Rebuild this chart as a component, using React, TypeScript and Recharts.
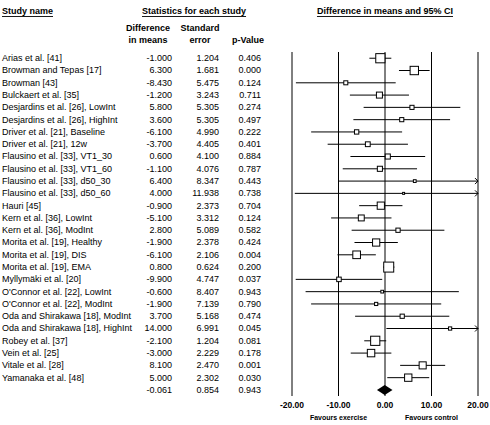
import { BarChart, Bar, XAxis, YAxis, CartesianGrid } from "recharts";

const FONT = '"Liberation Sans", Arial, sans-serif';

// study rows, top to bottom
const studyNames = [
  "Arias et al. [41]",
  "Browman and Tepas [17]",
  "Browman [43]",
  "Bulckaert et al. [35]",
  "Desjardins et al. [26], LowInt",
  "Desjardins et al. [26], HighInt",
  "Driver et al. [21], Baseline",
  "Driver et al. [21], 12w",
  "Flausino et al. [33], VT1_30",
  "Flausino et al. [33], VT1_60",
  "Flausino et al. [33], d50_30",
  "Flausino et al. [33], d50_60",
  "Hauri [45]",
  "Kern et al. [36], LowInt",
  "Kern et al. [36], ModInt",
  "Morita et al. [19], Healthy",
  "Morita et al. [19], DIS",
  "Morita et al. [19], EMA",
  "Myllymäki et al. [20]",
  "O'Connor et al. [22], LowInt",
  "O'Connor et al. [22], ModInt",
  "Oda and Shirakawa [18], ModInt",
  "Oda and Shirakawa [18], HighInt",
  "Robey et al. [37]",
  "Vein et al. [25]",
  "Vitale et al. [28]",
  "Yamanaka et al. [48]",
];
const meanDiffs = [
  -1.0, 6.3, -8.43, -1.2, 5.8, 3.6, -6.1, -3.7, 0.6, -1.1, 6.4, 4.0, -0.9, -5.1,
  2.8, -1.9, -6.1, 0.8, -9.9, -0.6, -1.9, 3.7, 14.0, -2.1, -3.0, 8.1, 5.0,
];
const stdErrors = [
  1.204, 1.681, 5.475, 3.243, 5.305, 5.305, 4.99, 4.405, 4.1, 4.076, 8.347,
  11.938, 2.373, 3.312, 5.089, 2.378, 2.106, 0.624, 4.747, 8.407, 7.139, 5.168,
  6.991, 1.204, 2.229, 2.47, 2.302,
];
const pValues = [
  "0.406", "0.000", "0.124", "0.711", "0.274", "0.497", "0.222", "0.401",
  "0.884", "0.787", "0.443", "0.738", "0.704", "0.124", "0.582", "0.424",
  "0.004", "0.200", "0.037", "0.943", "0.790", "0.474", "0.045", "0.081",
  "0.178", "0.001", "0.030",
];
const summaryMean = -0.061;
const summarySe = 0.854;
const summaryP = "0.943";

const axisTicks = [-20, -10, 0, 10, 20];
const axisMin = -20;
const axisMax = 20;

// box side grows with (random-effects style) weight
const TAU2 = 5.3;
const maxWeight = Math.max(...stdErrors.map((s) => 1 / (s * s + TAU2)));
const boxSize = (se: number) => 10 * Math.sqrt(1 / (se * se + TAU2) / maxWeight);

type Row = {
  key: string;
  name: string;
  mean: number;
  se: number;
  p: string;
  ci: [number, number];
  overRight: boolean;
  summary: boolean;
};

const makeRow = (i: number, name: string, mean: number, se: number, p: string, summary: boolean): Row => {
  const lo = mean - 1.96 * se;
  const hi = mean + 1.96 * se;
  return {
    key: "r" + i,
    name,
    mean,
    se,
    p,
    ci: [Math.max(lo, axisMin), Math.min(hi, axisMax)],
    overRight: hi > axisMax,
    summary,
  };
};

const rows: Row[] = [
  ...studyNames.map((n, i) => makeRow(i, n, meanDiffs[i], stdErrors[i], pValues[i], false)),
  makeRow(studyNames.length, "", summaryMean, summarySe, summaryP, true),
];

const ForestMark = (props: any) => {
  const { x, y, width, height, payload } = props;
  const row = payload as Row;
  const cy = y + height / 2;
  const perUnit = width / (row.ci[1] - row.ci[0]);
  const cx = x + (row.mean - row.ci[0]) * perUnit;
  if (row.summary) {
    const h = 5;
    return (
      <polygon
        points={`${x},${cy} ${cx},${cy - h} ${x + width},${cy} ${cx},${cy + h}`}
        fill="#000"
      />
    );
  }
  const s = boxSize(row.se);
  const tip = x + width;
  return (
    <g>
      <line x1={x} x2={tip} y1={cy} y2={cy} stroke="#000" strokeWidth={1} />
      {row.overRight && (
        <polyline
          points={`${tip - 3},${cy - 3} ${tip},${cy} ${tip - 3},${cy + 3}`}
          fill="none"
          stroke="#000"
          strokeWidth={1}
        />
      )}
      <rect x={cx - s / 2} y={cy - s / 2} width={s} height={s} fill="#fff" stroke="#000" strokeWidth={1} />
    </g>
  );
};

const TableTick = (props: any) => {
  const { y, payload } = props;
  const row = rows.find((r) => r.key === payload.value);
  if (!row) return null;
  const common = { y, fontSize: 9, fontFamily: FONT, fill: "#000", dominantBaseline: "central" as const };
  return (
    <g>
      <text {...common} x={2}>{row.name}</text>
      <text {...common} x={172} textAnchor="end">{row.mean.toFixed(3)}</text>
      <text {...common} x={219} textAnchor="end">{row.se.toFixed(3)}</text>
      <text {...common} x={261} textAnchor="end">{row.p}</text>
    </g>
  );
};

const AxisTick = (props: any) => {
  const { x, y, payload } = props;
  const v = payload.value as number;
  const favour = v === -10 ? "Favours exercise" : v === 10 ? "Favours control" : null;
  return (
    <g fontFamily={FONT} fontWeight="bold" fill="#000">
      <text x={x} y={y} dy={1} fontSize={8.5} textAnchor="middle" dominantBaseline="central">
        {v.toFixed(2)}
      </text>
      {favour && (
        <text x={x} y={y} dy={13.5} fontSize={7} textAnchor="middle" dominantBaseline="central">
          {favour}
        </text>
      )}
    </g>
  );
};

const Headers = () => {
  const t = { fontFamily: FONT, fontSize: 9, fontWeight: "bold" as const, fill: "#000", dominantBaseline: "central" as const };
  return (
    <svg width={490} height={50} style={{ position: "absolute", left: 0, top: 0, pointerEvents: "none" }}>
      <text {...t} x={2} y={11} textDecoration="underline">Study name</text>
      <text {...t} x={142} y={11} textDecoration="underline">Statistics for each study</text>
      <text {...t} x={385} y={11} textAnchor="middle" textDecoration="underline">
        Difference in means and 95% CI
      </text>
      <text {...t} x={148} y={28} textAnchor="middle">Difference</text>
      <text {...t} x={148} y={40} textAnchor="middle">in means</text>
      <text {...t} x={200} y={28} textAnchor="middle">Standard</text>
      <text {...t} x={200} y={40} textAnchor="middle">error</text>
      <text {...t} x={248} y={40} textAnchor="middle">p-Value</text>
    </svg>
  );
};

export default function App() {
  return (
    <div style={{ position: "relative", width: 490, height: 425, background: "#fff" }}>
      <style>{`body{margin:0}`}</style>
      <BarChart
        width={490}
        height={425}
        data={rows}
        layout="vertical"
        margin={{ top: 52, right: 12, bottom: 0, left: 0 }}
        barCategoryGap="10%"
      >
        <CartesianGrid horizontal={false} stroke="#000" />
        <XAxis
          type="number"
          domain={[axisMin, axisMax]}
          ticks={axisTicks}
          axisLine={false}
          tickLine={false}
          height={29}
          tick={<AxisTick />}
        />
        <YAxis
          type="category"
          dataKey="key"
          width={292}
          axisLine={false}
          tickLine={false}
          interval={0}
          tick={<TableTick />}
        />
        <Bar dataKey="ci" shape={(p: any) => <ForestMark {...p} />} isAnimationActive={false} />
      </BarChart>
      <Headers />
    </div>
  );
}
